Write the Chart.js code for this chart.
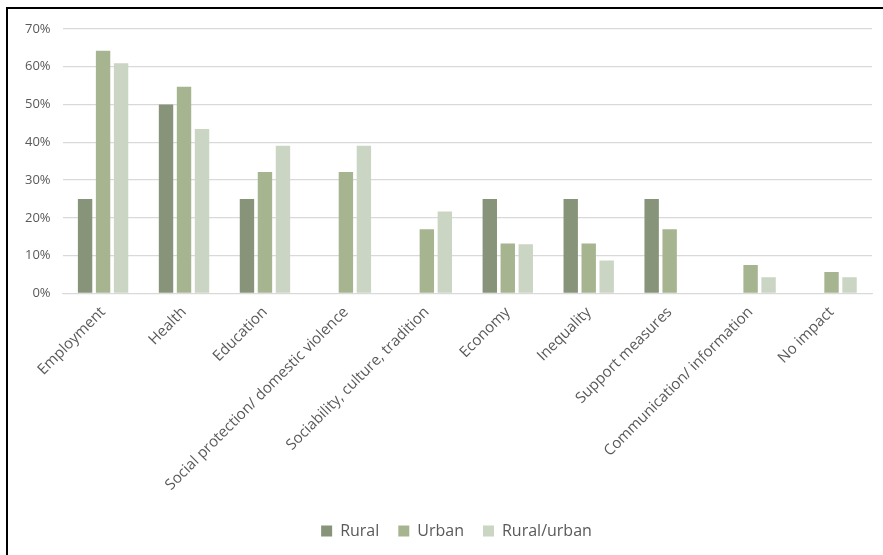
<!DOCTYPE html>
<html>
<head>
<meta charset="utf-8">
<script src="https://cdn.jsdelivr.net/npm/chart.js@4"></script>
<style>
  html, body { margin: 0; padding: 0; background: #fff; overflow: hidden; }
  #frame {
    position: absolute;
    left: 6px;
    top: 7px;
    width: 877px;
    height: 559px;
    border-left: 2px solid #000;
    border-top: 2px solid #000;
  }
</style>
</head>
<body>
<div id="frame"><canvas id="impactChart"></canvas></div>
<script>
const categories = [
  "Employment",
  "Health",
  "Education",
  "Social protection/ domestic violence",
  "Sociability, culture, tradition",
  "Economy",
  "Inequality",
  "Support measures",
  "Communication/ information",
  "No impact",
];
const rural = [25, 50, 25, 0, 0, 25, 25, 25, 0, 0];
const urban = [64.2, 54.7, 32.1, 32.1, 17.0, 13.2, 13.2, 17.0, 7.5, 5.7];
const ruralUrban = [60.9, 43.5, 39.1, 39.1, 21.7, 13.0, 8.7, 0, 4.3, 4.3];
const yTicks = [0, 10, 20, 30, 40, 50, 60, 70];

const textColor = "#595959";
const gridColor = "#d9d9d9";

// nudge the legend so it sits centred under the plot area
const legendShift = {
  id: "legendShift",
  afterLayout(chart) {
    chart.legend.left += 14;
    chart.legend.right += 14;
  },
};

const ctx = document.getElementById("impactChart").getContext("2d");

new Chart(ctx, {
  type: "bar",
  data: {
    labels: categories,
    datasets: [
      { label: "Rural", data: rural, backgroundColor: "#879479" },
      { label: "Urban", data: urban, backgroundColor: "#a6b590" },
      { label: "Rural/urban", data: ruralUrban, backgroundColor: "#cbd5c3" },
    ],
  },
  options: {
    responsive: true,
    maintainAspectRatio: false,
    animation: false,
    categoryPercentage: 0.667,
    barPercentage: 0.8,
    layout: {
      padding: { left: 5, right: 13, top: 18, bottom: 19 },
    },
    scales: {
      x: {
        grid: { display: false },
        border: { color: gridColor, width: 1 },
        afterFit: (axis) => {
          axis.height += 8;
        },
        ticks: {
          color: textColor,
          font: { family: "Open Sans", size: 15 },
          minRotation: 45,
          maxRotation: 45,
          autoSkip: false,
          padding: 2,
        },
      },
      y: {
        min: 0,
        max: 70,
        afterBuildTicks: (axis) => {
          axis.ticks = yTicks.map((v) => ({ value: v }));
        },
        grid: { color: gridColor, lineWidth: 1.2, drawTicks: false },
        border: { display: false },
        ticks: {
          color: textColor,
          font: { family: "Open Sans", size: 13 },
          padding: 12,
          callback: (v) => v + "%",
        },
      },
    },
    plugins: {
      legend: {
        position: "bottom",
        labels: {
          color: textColor,
          font: { family: "Open Sans", size: 16 },
          boxWidth: 11,
          boxHeight: 11,
          padding: 19,
        },
      },
      tooltip: { enabled: false },
    },
  },
  plugins: [legendShift],
});
</script>
</body>
</html>
